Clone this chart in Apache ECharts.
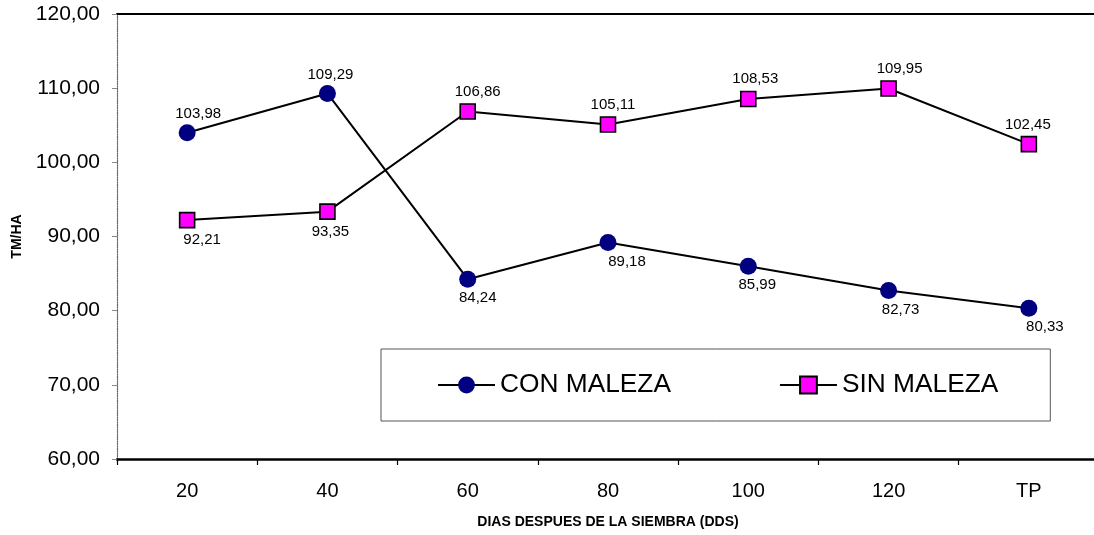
<!DOCTYPE html>
<html>
<head>
<meta charset="utf-8">
<script src="https://cdn.jsdelivr.net/npm/echarts@6/dist/echarts.min.js"></script>
<style>
  html, body { margin: 0; padding: 0; background: #fff; }
  #chart { width: 1094px; height: 535px; }
</style>
</head>
<body>
<div id="chart"></div>
<script>
// Días después de la siembra (DDS) y rendimiento en TM/HA
const categories = ['20', '40', '60', '80', '100', '120', 'TP'];
const conMaleza = [103.98, 109.29, 84.24, 89.18, 85.99, 82.73, 80.33];
const sinMaleza = [92.21, 93.35, 106.86, 105.11, 108.53, 109.95, 102.45];
const yTicks = { min: 60, max: 120, interval: 10 };

// label placement per point (above / below the marker, small horizontal nudge)
const conLabelPos = ['top', 'top', 'bottom', 'bottom', 'bottom', 'bottom', 'bottom'];
const conLabelDx = [11, 3, 10, 19, 9, 12, 16];
const sinLabelPos = ['bottom', 'bottom', 'top', 'top', 'top', 'top', 'top'];
const sinLabelDx = [15, 3, 10, 5, 7, 11, -1];

const fmt = v => v.toFixed(2).replace('.', ',');
const FONT = 'Arial, "Liberation Sans", sans-serif';

function withLabels(values, pos, dx) {
  return values.map((v, i) => ({
    value: v,
    label: { position: pos[i], offset: [dx[i], 0] }
  }));
}

const chart = echarts.init(document.getElementById('chart'));
chart.setOption({
  animation: false,
  backgroundColor: '#ffffff',
  textStyle: { fontFamily: FONT },
  grid: { left: 117, top: 14, width: 982, height: 445, outerBoundsMode: 'none', containLabel: false },
  legend: {
    left: 381,
    top: 349,
    orient: 'horizontal',
    padding: [23, 52, 23, 56],
    itemGap: 108,
    itemWidth: 57,
    itemHeight: 21,
    borderColor: '#555',
    borderWidth: 1,
    textStyle: { fontFamily: FONT, fontSize: 26.3, color: '#000' },
    data: ['CON MALEZA', 'SIN MALEZA']
  },
  xAxis: [{
    type: 'category',
    data: categories,
    boundaryGap: true,
    name: 'DIAS DESPUES DE LA SIEMBRA (DDS)',
    nameLocation: 'middle',
    nameGap: 56,
    nameTextStyle: { fontFamily: FONT, fontSize: 14, fontWeight: 'bold', color: '#000' },
    axisLine: { lineStyle: { color: '#000', width: 2.5 } },
    axisTick: { show: true, length: 6, lineStyle: { color: '#000', width: 1.2 } },
    axisLabel: { fontFamily: FONT, fontSize: 20, color: '#000', margin: 22 },
    splitLine: { show: false }
  }, {
    type: 'category',
    position: 'top',
    data: categories,
    axisLine: { show: true, lineStyle: { color: '#000', width: 2 } },
    axisTick: { show: false },
    axisLabel: { show: false }
  }],
  yAxis: {
    type: 'value',
    min: yTicks.min,
    max: yTicks.max,
    interval: yTicks.interval,
    name: 'TM/HA',
    nameLocation: 'middle',
    nameRotate: 90,
    nameGap: 93,
    nameTextStyle: { fontFamily: FONT, fontSize: 14, fontWeight: 'bold', color: '#000' },
    axisLine: { show: true, lineStyle: { color: '#666', width: 1.2, type: 'dotted' } },
    axisTick: { show: true, length: 5, lineStyle: { color: '#888', width: 1 } },
    axisLabel: { fontFamily: FONT, fontSize: 21, color: '#000', margin: 17, formatter: v => fmt(v) },
    splitLine: { show: false }
  },
  series: [{
    name: 'CON MALEZA',
    type: 'line',
    data: withLabels(conMaleza, conLabelPos, conLabelDx),
    symbol: 'circle',
    symbolSize: 17,
    itemStyle: { color: '#000080', borderColor: '#000080', borderWidth: 0 },
    lineStyle: { color: '#000', width: 2 },
    label: {
      show: true, distance: 3,
      fontFamily: FONT, fontSize: 15, color: '#000',
      formatter: p => fmt(p.value)
    },
    z: 3
  }, {
    name: 'SIN MALEZA',
    type: 'line',
    data: withLabels(sinMaleza, sinLabelPos, sinLabelDx),
    symbol: 'rect',
    symbolSize: 15,
    itemStyle: { color: '#ff00ff', borderColor: '#000', borderWidth: 1.6 },
    lineStyle: { color: '#000', width: 2 },
    label: {
      show: true, distance: 4,
      fontFamily: FONT, fontSize: 15, color: '#000',
      formatter: p => fmt(p.value)
    },
    z: 3
  }]
});
</script>
</body>
</html>
